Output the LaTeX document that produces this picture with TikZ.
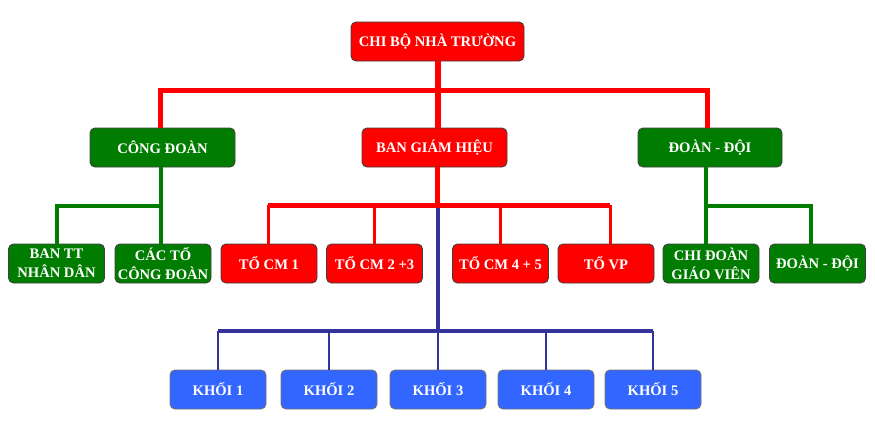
\documentclass[tikz,border=0pt]{standalone}
\usepackage{fontspec}
\setmainfont{Liberation Serif}
\definecolor{cred}{RGB}{255,0,0}
\definecolor{cgreen}{RGB}{0,125,0}
\definecolor{cblue}{RGB}{51,102,255}
\definecolor{lblue}{RGB}{51,51,153}
\begin{document}
\begin{tikzpicture}[x=1pt,y=-1pt,
  box/.style={rounded corners=5pt,draw=black!75,line width=0.9pt,text=white,
    font=\bfseries\fontsize{14.6}{19}\selectfont,align=center,inner sep=0pt,
    minimum height=39pt,minimum width=96pt},
  rbox/.style={box,fill=cred},
  gbox/.style={box,fill=cgreen},
  bbox/.style={box,fill=cblue,draw=black!55},
  rl/.style={draw=cred,line width=#1},
  gl/.style={draw=cgreen,line width=4pt},
  bl/.style={draw=lblue,line width=#1}]
\useasboundingbox (0,0) rectangle (875,434);
% nodes
\node[rbox,minimum width=173pt] (top) at (437.5,41.5) {CHI BỘ NHÀ TRƯỜNG};
\node[gbox,minimum width=145pt] (cd) at (162.5,147.5) {CÔNG ĐOÀN};
\node[rbox,minimum width=145pt] (bgh) at (434.5,147.5) {BAN GIÁM HIỆU};
\node[gbox,minimum width=144pt] (dd) at (710,147.5) {ĐOÀN - ĐỘI};
\node[gbox] (bantt) at (56.5,263.5) {BAN TT\\NHÂN DÂN};
\node[gbox] (cacto) at (163,263.5) {CÁC TỔ\\CÔNG ĐOÀN};
\node[rbox] (cm1) at (269,263.5) {TỔ CM 1};
\node[rbox] (cm23) at (374.5,263.5) {TỔ CM 2 +3};
\node[rbox] (cm45) at (500.5,263.5) {TỔ CM 4 + 5};
\node[rbox] (vp) at (606,263.5) {TỔ VP};
\node[gbox] (chid) at (711,263.5) {CHI ĐOÀN\\GIÁO VIÊN};
\node[gbox] (dd2) at (817.5,263.5) {ĐOÀN - ĐỘI};
\node[bbox] (k1) at (218,389.5) {KHỐI 1};
\node[bbox] (k2) at (329,389.5) {KHỐI 2};
\node[bbox] (k3) at (438,389.5) {KHỐI 3};
\node[bbox] (k4) at (546,389.5) {KHỐI 4};
\node[bbox] (k5) at (653,389.5) {KHỐI 5};
% junction coordinates
\coordinate (bar1) at (0,90);
\coordinate (bar2) at (0,205);
\coordinate (gbar) at (0,206);
\coordinate (bar3) at (0,331);
\coordinate (bstart) at (438,207.5);
% red top level
\draw[rl=6pt] (top.south) -- (top.south |- bgh.north);
\draw[rl=5pt] ([xshift=-2.5pt]cd.north) -- ([xshift=-2.5pt]cd.north |- bar1) -- ([xshift=-3pt]dd.north |- bar1) -- ([xshift=-3pt]dd.north);
% red second level
\draw[rl=5pt] (top.south |- bgh.south) -- (top.south |- bar2);
\draw[rl=5pt] ([xshift=-1pt]cm1.north |- bar2) -- ([xshift=4pt]vp.north |- bar2);
\draw[rl=3pt] ([xshift=-1pt]cm1.north |- bar2) -- ([xshift=-1pt]cm1.north);
\draw[rl=3pt] (cm23.north |- bar2) -- (cm23.north);
\draw[rl=3pt] (cm45.north |- bar2) -- (cm45.north);
\draw[rl=3pt] ([xshift=4pt]vp.north |- bar2) -- ([xshift=4pt]vp.north);
% green
\draw[gl] ([xshift=-2pt]cd.south) -- ([xshift=-2pt]cd.south |- gbar);
\draw[gl] (bantt.north) -- (bantt.north |- gbar) -- ([xshift=-2pt]cacto.north |- gbar) -- ([xshift=-2pt]cacto.north);
\draw[gl] ([xshift=-4pt]dd.south) -- ([xshift=-4pt]dd.south |- gbar);
\draw[gl] ([xshift=-5pt]chid.north) -- ([xshift=-5pt]chid.north |- gbar) -- ([xshift=-6.5pt]dd2.north |- gbar) -- ([xshift=-6.5pt]dd2.north);
% blue
\draw[bl=4pt] (bstart) -- (bstart |- bar3);
\draw[bl=4pt] (k1.north |- bar3) -- (k5.north |- bar3);
\foreach \k in {k1,k2,k3,k4,k5}{
  \draw[bl=2.5pt] (\k.north |- bar3) -- (\k.north);
}
\end{tikzpicture}
\end{document}
